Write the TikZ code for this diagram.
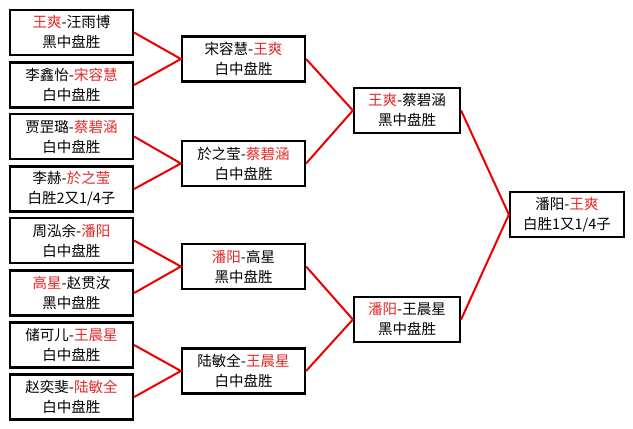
\documentclass[tikz,border=0pt]{standalone}
\usepackage{fontspec}
\setmainfont{Noto Sans CJK SC}
\definecolor{wred}{RGB}{228,40,40}
\definecolor{lred}{RGB}{235,0,0}
\begin{document}
\begin{tikzpicture}[x=1pt,y=-1pt,
  box/.style={draw=black,line width=2.2pt,inner sep=0pt,align=center,
    font=\fontsize{14.5}{20}\selectfont,minimum height=45pt},
  b1/.style={box,minimum width=123pt},
  b2/.style={box,minimum width=123pt},
  b3/.style={box,minimum width=106pt},
  b4/.style={box,minimum width=114pt},
  link/.style={draw=lred,line width=2pt}]
\fill[white] (0,0) rectangle (633,429);
\useasboundingbox (0,0) rectangle (633,429);
\newcommand{\rr}[1]{\textcolor{wred}{#1}}
% round 1
\node[b1] (a1) at (71.5,32.5) {\rr{王爽}-汪雨博\\黑中盘胜};
\node[b1] (a2) at (71.5,85) {李鑫怡-\rr{宋容慧}\\白中盘胜};
\node[b1] (a3) at (71.5,136.5) {贾罡璐-\rr{蔡碧涵}\\白中盘胜};
\node[b1] (a4) at (71.5,189) {李赫-\rr{於之莹}\\白胜2又1/4子};
\node[b1] (a5) at (71.5,240.5) {周泓余-\rr{潘阳}\\白中盘胜};
\node[b1] (a6) at (71.5,293) {\rr{高星}-赵贯汝\\黑中盘胜};
\node[b1] (a7) at (71.5,345) {储可儿-\rr{王晨星}\\白中盘胜};
\node[b1] (a8) at (71.5,397) {赵奕斐-\rr{陆敏全}\\白中盘胜};
% round 2
\node[b2] (b1) at (243.5,59) {宋容慧-\rr{王爽}\\白中盘胜};
\node[b2] (b2) at (243.5,163.5) {於之莹-\rr{蔡碧涵}\\白中盘胜};
\node[b2] (b3) at (243.5,266.5) {\rr{潘阳}-高星\\黑中盘胜};
\node[b2] (b4) at (243.5,371) {陆敏全-\rr{王晨星}\\白中盘胜};
% round 3
\node[b3] (c1) at (407,110.5) {\rr{王爽}-蔡碧涵\\黑中盘胜};
\node[b3] (c2) at (407,319.5) {\rr{潘阳}-王晨星\\黑中盘胜};
% final
\node[b4] (d1) at (567,214.5) {潘阳-\rr{王爽}\\白胜1又1/4子};
% links
\draw[link] (a1.east) -- (b1.west) -- (a2.east);
\draw[link] (a3.east) -- (b2.west) -- (a4.east);
\draw[link] (a5.east) -- (b3.west) -- (a6.east);
\draw[link] (a7.east) -- (b4.west) -- (a8.east);
\draw[link] (b1.east) -- (c1.west) -- (b2.east);
\draw[link] (b3.east) -- (c2.west) -- (b4.east);
\draw[link] (c1.east) -- (d1.west) -- (c2.east);
\end{tikzpicture}
\end{document}
